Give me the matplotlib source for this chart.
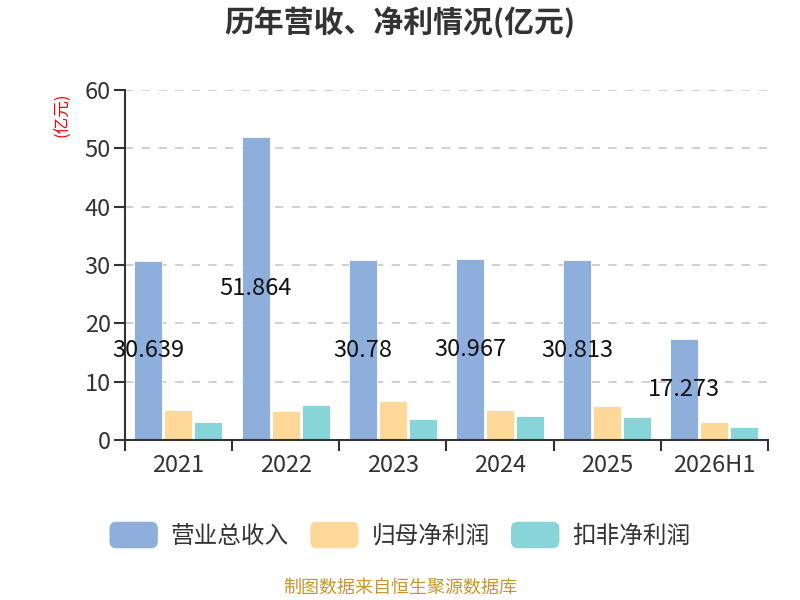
import numpy as np
import matplotlib
matplotlib.use("Agg")
import matplotlib.pyplot as plt
from matplotlib.patches import FancyBboxPatch, Patch
from matplotlib.legend_handler import HandlerPatch

plt.rcParams['font.family'] = ['Noto Sans CJK SC', 'DejaVu Sans']

years = ["2021", "2022", "2023", "2024", "2025", "2026H1"]
revenue = [30.639, 51.864, 30.78, 30.967, 30.813, 17.273]
net_profit = [5.14, 4.91, 6.63, 5.14, 5.77, 3.09]
deducted_profit = [3.03, 5.94, 3.60, 4.11, 3.89, 2.23]
revenue_labels = ["30.639", "51.864", "30.78", "30.967", "30.813", "17.273"]
series_names = ["营业总收入", "归母净利润", "扣非净利润"]
colors = ["#8eaedb", "#fed898", "#87d5d8"]


class RoundHandler(HandlerPatch):
    def create_artists(self, legend, orig_handle, xdescent, ydescent,
                       width, height, fontsize, trans):
        p = FancyBboxPatch((-xdescent, -ydescent), width, height,
                           boxstyle="round,pad=0,rounding_size=5",
                           fc=orig_handle.get_facecolor(), ec="none",
                           transform=trans)
        return [p]


fig = plt.figure(figsize=(8, 6), dpi=100)
ax = fig.add_axes([0.156, 0.2667, 0.804, 0.5833])

x = np.arange(len(years))
w = 0.26
off = 0.28
ax.bar(x - off, revenue, w, color=colors[0], edgecolor="white", linewidth=0.6, zorder=2)
ax.bar(x, net_profit, w, color=colors[1], edgecolor="white", linewidth=0.6, zorder=2)
ax.bar(x + off, deducted_profit, w, color=colors[2], edgecolor="white", linewidth=0.6, zorder=2)

for xi, v, lab in zip(x, revenue, revenue_labels):
    ax.text(xi - off, v / 2, lab, ha="center", va="center",
            fontsize=17, color="#111111", zorder=3)

ax.set_xlim(-0.5, len(years) - 0.5)
ax.set_ylim(0, 60)
ax.set_yticks(np.arange(0, 61, 10))
ax.set_xticks(x)
ax.set_xticklabels(years)
ax.set_xticks(np.arange(-0.5, len(years), 1), minor=True)
ax.tick_params(axis="x", which="major", length=0, labelsize=17, colors="#333333", pad=10)
ax.tick_params(axis="x", which="minor", length=8, width=1.5, color="#333333")
ax.tick_params(axis="y", length=8, width=1.5, color="#333333", labelsize=17,
               labelcolor="#333333", pad=2)

for y in range(10, 61, 10):
    ax.axhline(y, color="#c8c8c8", linestyle=(0, (5, 5)), linewidth=1.2, zorder=1)

for s in ["top", "right"]:
    ax.spines[s].set_visible(False)
for s in ["left", "bottom"]:
    ax.spines[s].set_color("#333333")
    ax.spines[s].set_linewidth(1.5)

fig.text(0.079, 1 - 115 / 600, "(亿元)", rotation=90, color="red", fontsize=12,
         ha="center", va="center")

fig.text(0.5, 1 - 22 / 600, "历年营收、净利情况(亿元)", ha="center", va="center",
         fontsize=21.5, fontweight="bold", color="#333333")

handles = [Patch(facecolor=c) for c in colors]
fig.legend(handles, series_names, loc="center", bbox_to_anchor=(0.5, 1 - 535 / 600),
           ncol=3, frameon=False, fontsize=17, handlelength=2.05, handleheight=1.35,
           handletextpad=0.55, columnspacing=0.9, labelcolor="#333333",
           handler_map={Patch: RoundHandler()})

fig.text(0.5, 1 - 588 / 600, "制图数据来自恒生聚源数据库", ha="center", va="center",
         fontsize=13, color="#c9962a")

fig.savefig("out.png", dpi=100)
